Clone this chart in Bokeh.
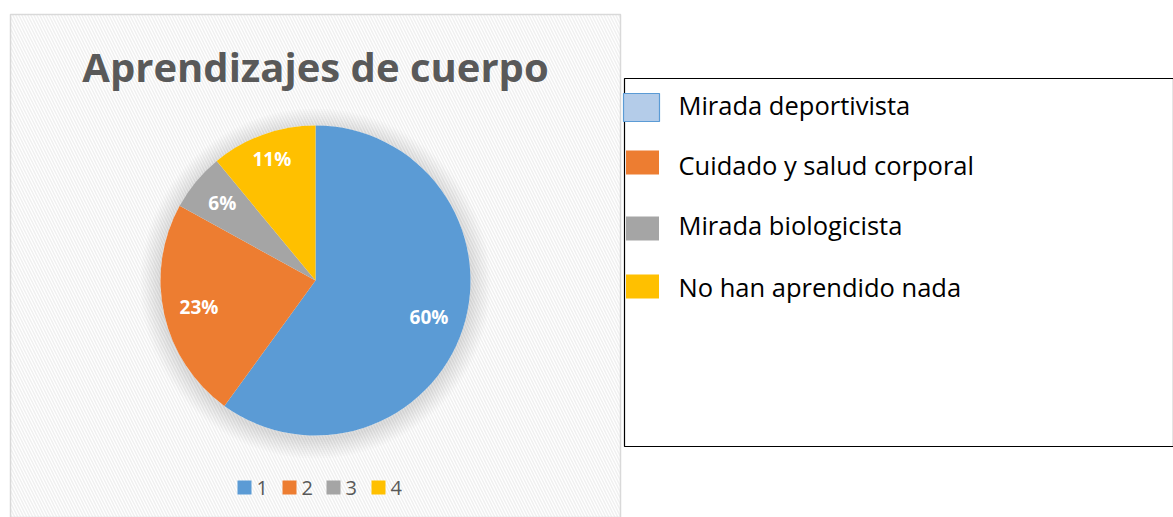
import math
from bokeh.plotting import figure
from bokeh.models import Range1d
from bokeh.core.properties import value
from bokeh.embed import file_html
from bokeh.resources import INLINE

# ---- data ----
title = "Aprendizajes de cuerpo"
categories = ["1", "2", "3", "4"]
values = [60, 23, 6, 11]
labels = ["60%", "23%", "6%", "11%"]
legend_labels = ["Mirada deportivista", "Cuidado y salud corporal",
                 "Mirada biologicista", "No han aprendido nada"]
colors = ["#5b9bd5", "#ed7d31", "#a5a5a5", "#ffc000"]

W, H = 1173, 517
def Y(y):
    return H - y

p = figure(width=W, height=H, output_backend="svg", toolbar_location=None,
           x_range=Range1d(0, W), y_range=Range1d(0, H), min_border=0)
p.axis.visible = False
p.grid.visible = False
p.outline_line_color = None
p.background_fill_color = "white"
p.border_fill_color = "white"

# chart panel with hatched background
p.quad(left=[10], right=[620], bottom=[Y(517)], top=[Y(14)], fill_color="white",
       line_color="#d9d9d9", line_width=1.5, hatch_pattern="left_diagonal_line",
       hatch_color="#f0f0f0", hatch_weight=1.5, hatch_scale=6)

# title
p.text(x=[315], y=[Y(66)], text=[title], text_font=value("Open Sans"),
       text_font_style="bold", text_font_size="40px", text_color="#595959",
       text_align="center", text_baseline="middle")

# pie shadow
cx, cy, r = 315, Y(280), 155
for k in range(10):
    p.circle(x=[cx], y=[cy - 3], radius=r + 20 - 2 * k, fill_color="#000000",
             fill_alpha=0.012, line_color=None)
p.circle(x=[cx], y=[cy], radius=r, fill_color="white", line_color=None)

# wedges (clockwise from 12 o'clock)
total = sum(values)
cum = 0
starts, ends, mids = [], [], []
for v in values:
    a0 = math.pi / 2 - 2 * math.pi * cum / total
    cum += v
    a1 = math.pi / 2 - 2 * math.pi * cum / total
    starts.append(a0)
    ends.append(a1)
    mids.append((a0 + a1) / 2)
p.wedge(x=[cx] * 4, y=[cy] * 4, radius=r, start_angle=starts, end_angle=ends,
        direction="clock", fill_color=colors, line_color=None)

# data labels
lr = [0.77 * r, 0.77 * r, 0.78 * r, 0.83 * r]
lx = [cx + lr[i] * math.cos(m) for i, m in enumerate(mids)]
ly = [cy + lr[i] * math.sin(m) for i, m in enumerate(mids)]
p.text(x=lx, y=ly, text=labels, text_font=value("Open Sans"), text_font_style="bold",
       text_font_size="19px", text_color="white", text_align="center",
       text_baseline="middle")

# bottom legend
bx = [237, 282, 326, 371]
p.rect(x=[b + 7 for b in bx], y=[Y(487)] * 4, width=14, height=14,
       fill_color=colors, line_color=None)
p.text(x=[b + 19 for b in bx], y=[Y(487)] * 4, text=categories,
       text_font=value("Open Sans"), text_font_size="20px", text_color="#595959",
       text_align="left", text_baseline="middle")

# right legend box
p.quad(left=[624], right=[1173], bottom=[Y(446)], top=[Y(78)], fill_color="white",
       line_color="black", line_width=1.2)
ly2 = [107, 162, 228, 286]
p.rect(x=[641], y=[Y(107)], width=36, height=28, fill_color="#b4cce9",
       line_color="#5b9bd5", line_width=1.2)
p.rect(x=[642] * 3, y=[Y(v) for v in ly2[1:]], width=33, height=24,
       fill_color=colors[1:], line_color=None)
p.text(x=[678] * 4, y=[Y(v - 3) for v in [107, 167, 227, 289]], text=legend_labels,
       text_font=value("Open Sans"), text_font_size="25.5px", text_color="black",
       text_align="left", text_baseline="middle")

open("out.html", "w").write(file_html(p, INLINE))
